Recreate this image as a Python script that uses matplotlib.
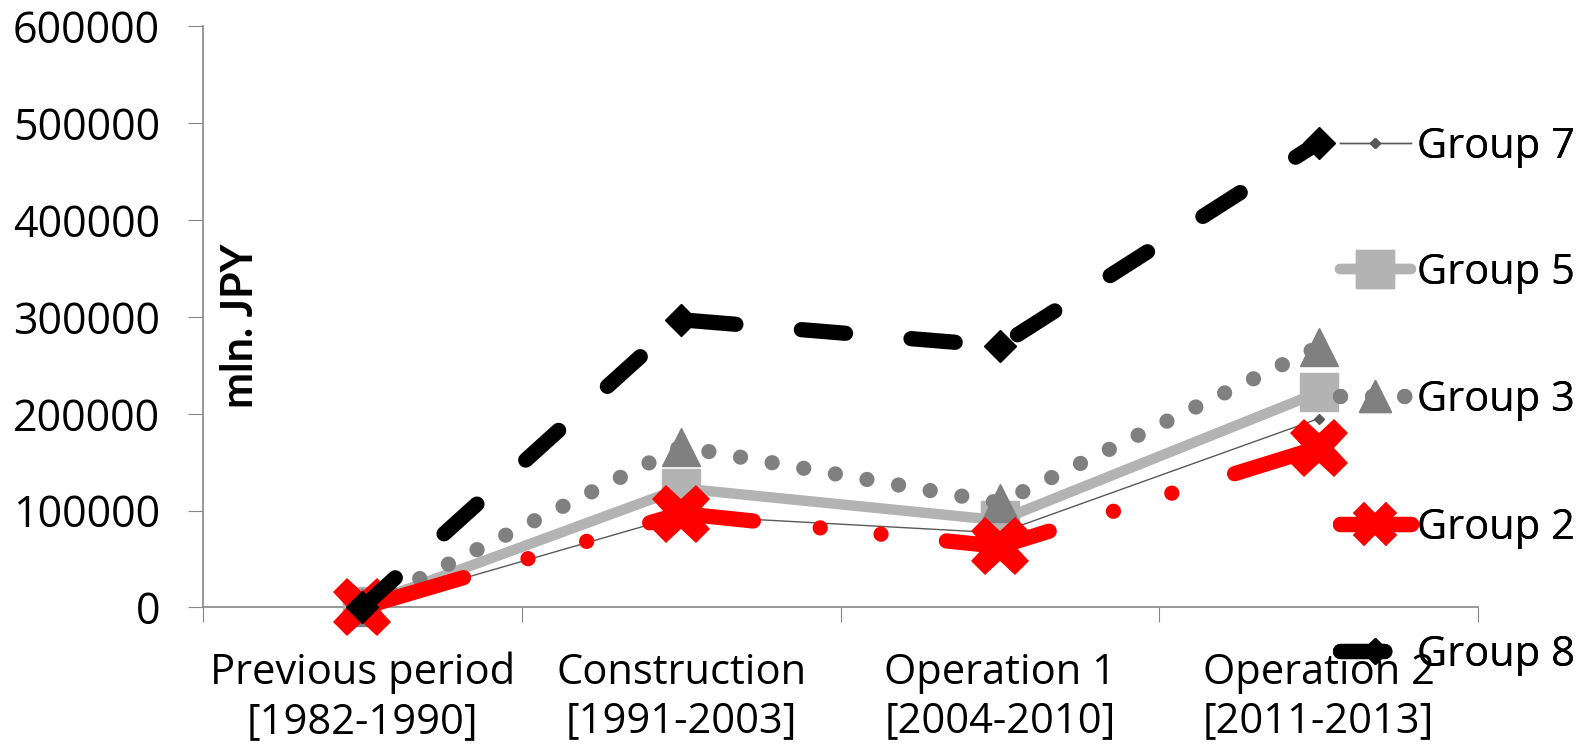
import numpy as np
import matplotlib
matplotlib.use("Agg")
import matplotlib.pyplot as plt

plt.rcParams["font.family"] = ["Open Sans", "DejaVu Sans"]

categories = ["Previous period\n[1982-1990]", "Construction\n[1991-2003]",
              "Operation 1\n[2004-2010]", "Operation 2\n[2011-2013]"]
group7 = [0, 95000, 77000, 195000]
group5 = [2000, 123000, 90000, 222000]
group3 = [0, 166000, 108000, 269000]
group2 = [0, 97000, 63000, 165000]
group8 = [0, 297000, 270000, 480000]
yticks = [0, 100000, 200000, 300000, 400000, 500000, 600000]

fig = plt.figure(figsize=(15.85, 7.51), dpi=100)
ax = fig.add_axes([0.1281, 0.1911, 0.8044, 0.7739])
x = np.arange(len(categories))

l7, = ax.plot(x, group7, color="#595959", lw=1, marker="D", ms=5, clip_on=False, zorder=3)
l5, = ax.plot(x, group5, color="#b3b3b3", lw=7.5, marker="s", ms=28,
              solid_capstyle="round", solid_joinstyle="round", clip_on=False, zorder=4)
l3, = ax.plot(x, group3, color="#808080", lw=11, linestyle=(0, (0.001, 2.1)),
              dash_capstyle="round", marker="^", ms=28, clip_on=False, zorder=5)
l2, = ax.plot(x, group2, color="#ff0000", lw=11,
              linestyle=(0, (6.9, 4.4, 0.001, 4.0, 0.001, 4.3)),
              dash_capstyle="round", marker="X", ms=42, mew=0, clip_on=False, zorder=6)
l8, = ax.plot(x, group8, color="black", lw=11, linestyle=(0, (2.9, 4.3)),
              dash_capstyle="round", marker="D", ms=16, clip_on=False, zorder=7)

ax.set_xlim(-0.5, 3.5)
ax.set_ylim(0, 600000)
ax.set_yticks(yticks)
ax.set_yticklabels([str(v) for v in yticks])
ax.set_xticks([-0.5, 0.5, 1.5, 2.5, 3.5])
ax.set_xticklabels([])
ax.set_xticks(x, minor=True)
ax.set_xticklabels(categories, minor=True)
ax.tick_params(axis="x", which="major", direction="out", length=11, color="#868686")
ax.tick_params(axis="x", which="minor", length=0, pad=32, labelsize=30)
ax.tick_params(axis="y", direction="out", length=11, color="#868686", pad=20, labelsize=31)
for s in ["top", "right"]:
    ax.spines[s].set_visible(False)
for s in ["left", "bottom"]:
    ax.spines[s].set_color("#868686")
    ax.spines[s].set_linewidth(1.2)

fig.text(240 / 1585, 1 - 326 / 751, "mln. JPY", rotation=90, fontsize=31,
         fontweight="bold", family=["Lato", "DejaVu Sans"], ha="center", va="center")

# legend entries spread down the right side
legend_y = [147, 273, 400, 528, 655]
names = ["Group 7", "Group 5", "Group 3", "Group 2", "Group 8"]
scales = [1, 1, 0.8, 0.75, 0.8]
for line, name, yy, sc in zip([l7, l5, l3, l2, l8], names, legend_y, scales):
    leg = fig.legend([line], [name], loc="center left",
                     bbox_to_anchor=(1340 / 1585, 1 - yy / 751), frameon=False,
                     fontsize=30, handlelength=1.7, handletextpad=0.15,
                     borderpad=0, borderaxespad=0, markerscale=sc)
    fig.add_artist(leg)

fig.savefig("out.png", dpi=100)
